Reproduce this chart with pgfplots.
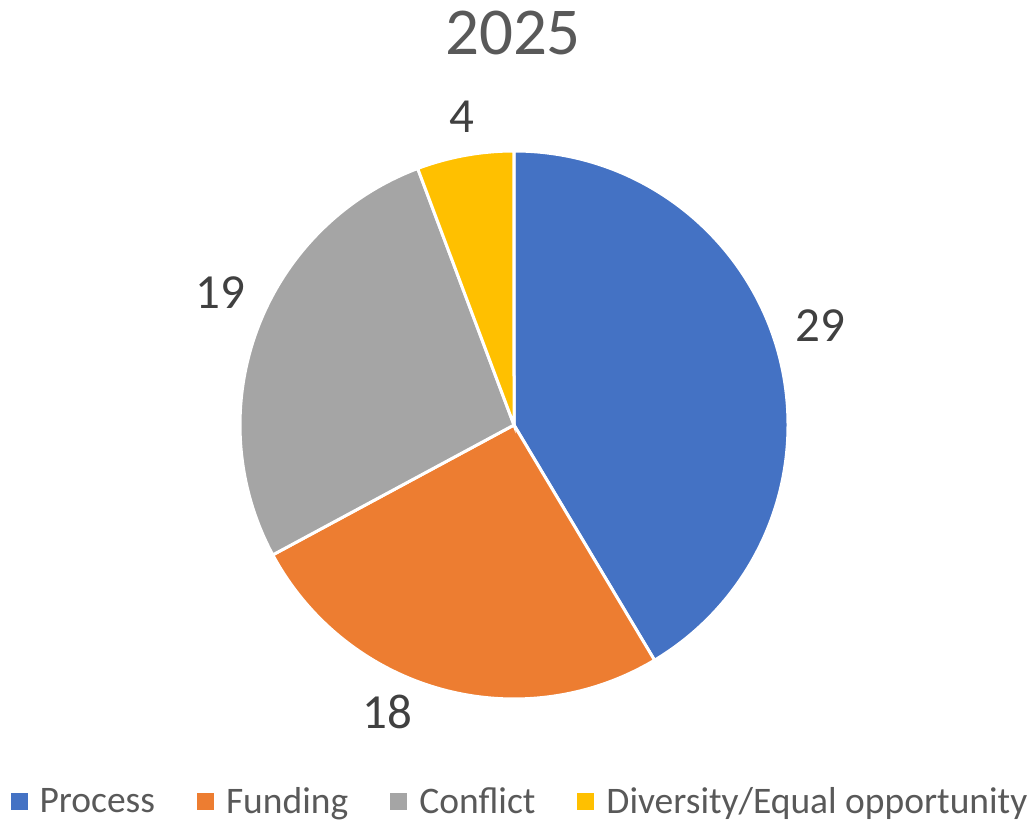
\documentclass[border=0pt]{standalone}
\usepackage{pgfplots}
\usepackage{pgfplotstable}
\pgfplotsset{compat=1.18}
\usepackage{fontspec}
\setmainfont{Carlito}

\definecolor{cProcess}{RGB}{68,114,196}
\definecolor{cFunding}{RGB}{237,125,49}
\definecolor{cConflict}{RGB}{165,165,165}
\definecolor{cDiversity}{RGB}{255,192,0}
\definecolor{titlegray}{RGB}{89,89,89}
\definecolor{labelgray}{RGB}{64,64,64}

% one wedge per row, angles come from visualization depends on
\pgfdeclareplotmark{wedge}{%
  \pgfpathmoveto{\pgfpointorigin}%
  \pgfpathlineto{\pgfpointpolar{\wstart}{274pt}}%
  \pgfpatharc{\wstart}{\wend}{274pt}%
  \pgfpathclose
  \pgfusepathqfillstroke
}

\pgfplotstableread{
label value cls
Process 29 a
Funding 18 b
Conflict 19 c
Diversity 4 d
}\piedata
\pgfplotstablecreatecol[create col/expr accum={\pgfmathaccuma + \thisrow{value}}{0}]{cum}{\piedata}

\pgfplotsset{
  sq/.style={legend image code/.code={%
      \fill[##1, draw=none] (0pt,-8.5pt) rectangle (17pt,8.5pt);
      \path[draw=none, fill=none] (0pt,0pt) -- (27pt,0pt);}},
}

\begin{document}
\begin{tikzpicture}
\begin{axis}[
    scale only axis,
    width=1035pt, height=823pt,
    xmin=0, xmax=1035, ymin=0, ymax=823,
    hide axis,
    clip=false,
    legend columns=4,
    legend style={draw=none, fill=none,
        at={(axis cs:520,22)}, anchor=center,
        font=\fontsize{37.5}{45}\selectfont, text=titlegray,
        /tikz/every even column/.append style={column sep=40pt}},
]
\path (axis cs:0,0) rectangle (axis cs:1035,823);

\addplot[
    scatter, only marks, mark=wedge, forget plot,
    scatter src=explicit symbolic,
    scatter/classes={
        a={draw=white, fill=cProcess, line width=3pt},
        b={draw=white, fill=cFunding, line width=3pt},
        c={draw=white, fill=cConflict, line width=3pt},
        d={draw=white, fill=cDiversity, line width=3pt}},
    visualization depends on={90-360*(\thisrow{cum}-\thisrow{value})/70 \as \wstart},
    visualization depends on={90-360*\thisrow{cum}/70 \as \wend},
] table[x expr=514, y expr=398, meta=cls] {\piedata};

\addlegendimage{sq, fill=cProcess}
\addlegendimage{sq, fill=cFunding}
\addlegendimage{sq, fill=cConflict}
\addlegendimage{sq, fill=cDiversity}
\legend{Process, Funding, Conflict, Diversity/Equal opportunity}

\node[text=titlegray, font=\fontsize{67}{80}\selectfont] at (axis cs:513,790) {2025};
\node[text=labelgray, font=\fontsize{49}{59}\selectfont] at (axis cs:820,497) {29};
\node[text=labelgray, font=\fontsize{49}{59}\selectfont] at (axis cs:387,111) {18};
\node[text=labelgray, font=\fontsize{49}{59}\selectfont] at (axis cs:220,530) {19};
\node[text=labelgray, font=\fontsize{49}{59}\selectfont] at (axis cs:462,706) {4};
\end{axis}
\end{tikzpicture}
\end{document}
